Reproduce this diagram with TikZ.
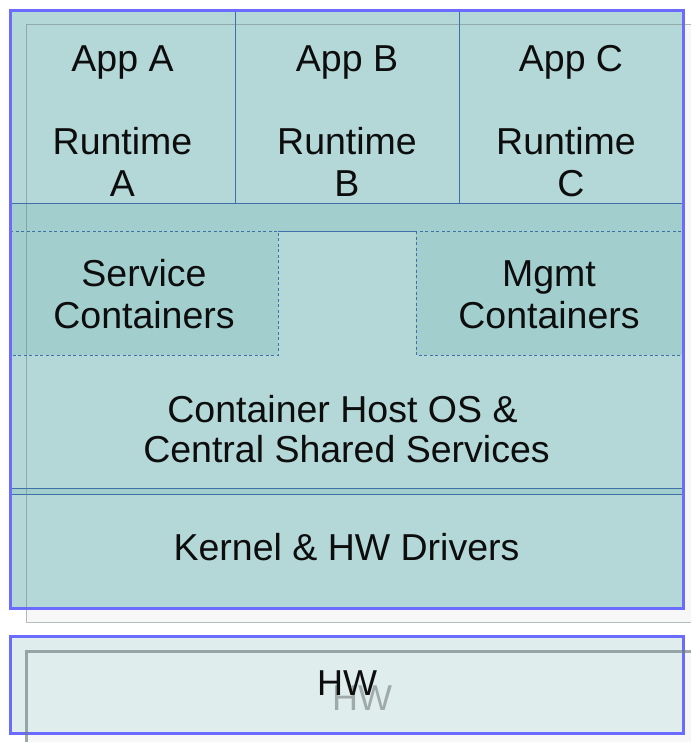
\documentclass[tikz,border=0pt]{standalone}
\usepackage{fontspec}
\setmainfont{Liberation Sans}
\definecolor{teal1}{RGB}{180,215,216}
\definecolor{teal2}{RGB}{162,206,206}
\definecolor{hwfill}{RGB}{223,237,237}
\definecolor{blueout}{RGB}{107,107,255}
\definecolor{steel}{RGB}{64,112,170}
\definecolor{ghostfill}{RGB}{247,247,247}
\definecolor{ghostline}{RGB}{110,125,126}
\definecolor{ghosttext}{RGB}{160,170,170}
\tikzset{
  layer/.style={fill=teal1, draw=steel, line width=0.9pt},
  band/.style={fill=teal2, draw=steel, line width=0.9pt},
  dashbox/.style={fill=teal2, draw=steel, line width=0.9pt, dash pattern=on 3pt off 2.5pt},
  outer/.style={draw=blueout, line width=3pt},
  ghost/.style={draw=ghostline, draw opacity=0.5, line width=1pt},
  lbl/.style={inner sep=0pt, anchor=base, font=\fontsize{37.5}{42}\selectfont, text=black!95},
}
\begin{document}
\begin{tikzpicture}[x=1pt, y=-1pt]
\useasboundingbox (0,0) rectangle (691,742);
\clip (0,0) rectangle (691,742);
% ghost background of main stack
\fill[ghostfill] (26,24) rectangle (699,622);
% main stack
\fill[teal1] (10,10) rectangle (683,608);
\draw[layer] (10,10) rectangle (235,231);
\draw[layer] (235,10) rectangle (459,231);
\draw[layer] (459,10) rectangle (683,231);
\draw[band] (10,203) rectangle (683,231);
\draw[layer] (10,231) rectangle (683,488);
\draw[dashbox] (10,231) rectangle (278,355);
\draw[dashbox] (416,231) rectangle (683,355);
\draw[band] (10,488) rectangle (683,494);
\draw[layer] (10,494) rectangle (683,608);
\draw[outer] (10,10) rectangle (683,608);
\draw[ghost] (26,24) rectangle (699,622);
% labels
\node[lbl] (appA) at (122.5,71) {App A};
\node[lbl] (appB) at (347,71) {App B};
\node[lbl] (appC) at (571,71) {App C};
\node[lbl] (rtA) at (122.5,154) {Runtime};
\node[lbl] (rtB) at (347,154) {Runtime};
\node[lbl] (rtC) at (566,154) {Runtime};
\node[lbl] (rtAx) at (122.5,196) {A};
\node[lbl] (rtBx) at (347,196) {B};
\node[lbl] (rtCx) at (571,196) {C};
\node[lbl] (svc1) at (144,286) {Service};
\node[lbl] (svc2) at (144,328) {Containers};
\node[lbl] (mg1) at (549,286) {Mgmt};
\node[lbl] (mg2) at (549,328) {Containers};
\node[lbl] (host1) at (342.5,422) {Container Host OS \&};
\node[lbl] (host2) at (346.5,462) {Central Shared Services};
\node[lbl] (kern) at (346.5,560) {Kernel \& HW Drivers};
% hardware
\fill[ghostfill] (26,651) rectangle (699,748);
\draw[outer, fill=hwfill] (10,636) rectangle (683,733);
\draw[ghost, draw opacity=0.65, line width=3pt] (26,651) rectangle (699,748);
\node[lbl, text=ghosttext, font=\fontsize{36}{40}\selectfont] (hwg) at (362,710) {HW};
\node[lbl, font=\fontsize{36}{40}\selectfont] (hw) at (347,695) {HW};
\end{tikzpicture}
\end{document}
